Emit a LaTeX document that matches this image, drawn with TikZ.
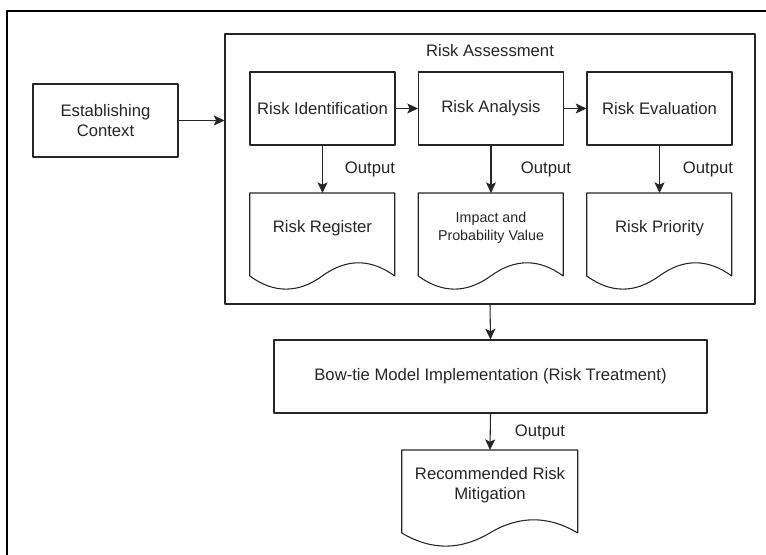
\documentclass[tikz,border=0pt]{standalone}
\usepackage{fontspec}
\setmainfont{Liberation Sans}
\usetikzlibrary{arrows.meta}
\tikzset{
  box/.style={draw,line width=0.8pt,minimum width=108.75pt,minimum height=54.75pt,align=center,inner sep=2pt},
  docnode/.style={minimum height=52.5pt,align=center,inner sep=0pt,anchor=north},
  lbl/.style={inner sep=0pt},
  conn/.style={->,line width=0.8pt}
}
\begin{document}
\begin{tikzpicture}[x=0.75pt,y=-0.75pt,>={Stealth[length=8pt,width=7.5pt,inset=1.8pt]},line join=round,
  font=\fontsize{12.5}{15}\selectfont,text=black!85,draw=black!85]
\useasboundingbox (0,0) rectangle (766,555);
% outer frame (cut off right and bottom)
\draw[line width=1.1pt,black] (7,560) |- (770,11);

% risk assessment group
\node[draw,line width=0.8pt,minimum width=397.5pt,minimum height=202.5pt] (assess) at (490,169) {};
\node[lbl] (asstitle) at (490,51) {Risk Assessment};

\node[box] (context) at (105.5,120.5) {Establishing\\Context};
\node[box] (ident) at (322.5,108.5) {Risk Identification};
\node[box] (anal) at (491,108.5) {Risk Analysis};
\node[box] (eval) at (659.5,108.5) {Risk Evaluation};

\node[docnode,minimum width=108.75pt] (reg) at (322.5,193) {Risk Register};
\node[docnode,minimum width=108.75pt,font=\fontsize{10.7}{13.5}\selectfont] (imp) at (491,193) {Impact and\\Probability Value};
\node[docnode,minimum width=108.75pt] (prio) at (659.5,193) {Risk Priority};

\node[box,minimum width=324.75pt] (bowtie) at (490.5,376.5) {Bow-tie Model Implementation (Risk Treatment)};
\node[docnode,minimum width=132pt] (mitig) at (490,450) {Recommended Risk\\Mitigation};

\node[lbl] (out1) at (370,169) {Output};
\node[lbl] (out2) at (546,169) {Output};
\node[lbl] (out3) at (708,169) {Output};
\node[lbl] (out4) at (540,432) {Output};

% document outlines with wavy bottom
\foreach \d/\w in {reg/145,imp/145,prio/145,mitig/176}
  \draw[line width=0.8pt,shift={(\d.north west)}] (0,0) -- (\w,0) -- (\w,83)
    .. controls ({0.8333*\w},65.4) and ({0.6667*\w},65.4) .. ({0.5*\w},83)
    .. controls ({0.3333*\w},100.5) and ({0.1667*\w},100.5) .. (0,83) -- cycle;

% connectors
\draw[conn] (context.east) -- (context.east -| assess.west);
\draw[conn] (ident) -- (anal);
\draw[conn] (anal) -- (eval);
\foreach \a/\b in {ident/reg,anal/imp,eval/prio}
  \draw[conn] (\a.south) -- (\b.north);
\draw[conn] (assess.south) -- (bowtie.north);
\draw[conn] (bowtie.south) -- (mitig.north);
\end{tikzpicture}
\end{document}
